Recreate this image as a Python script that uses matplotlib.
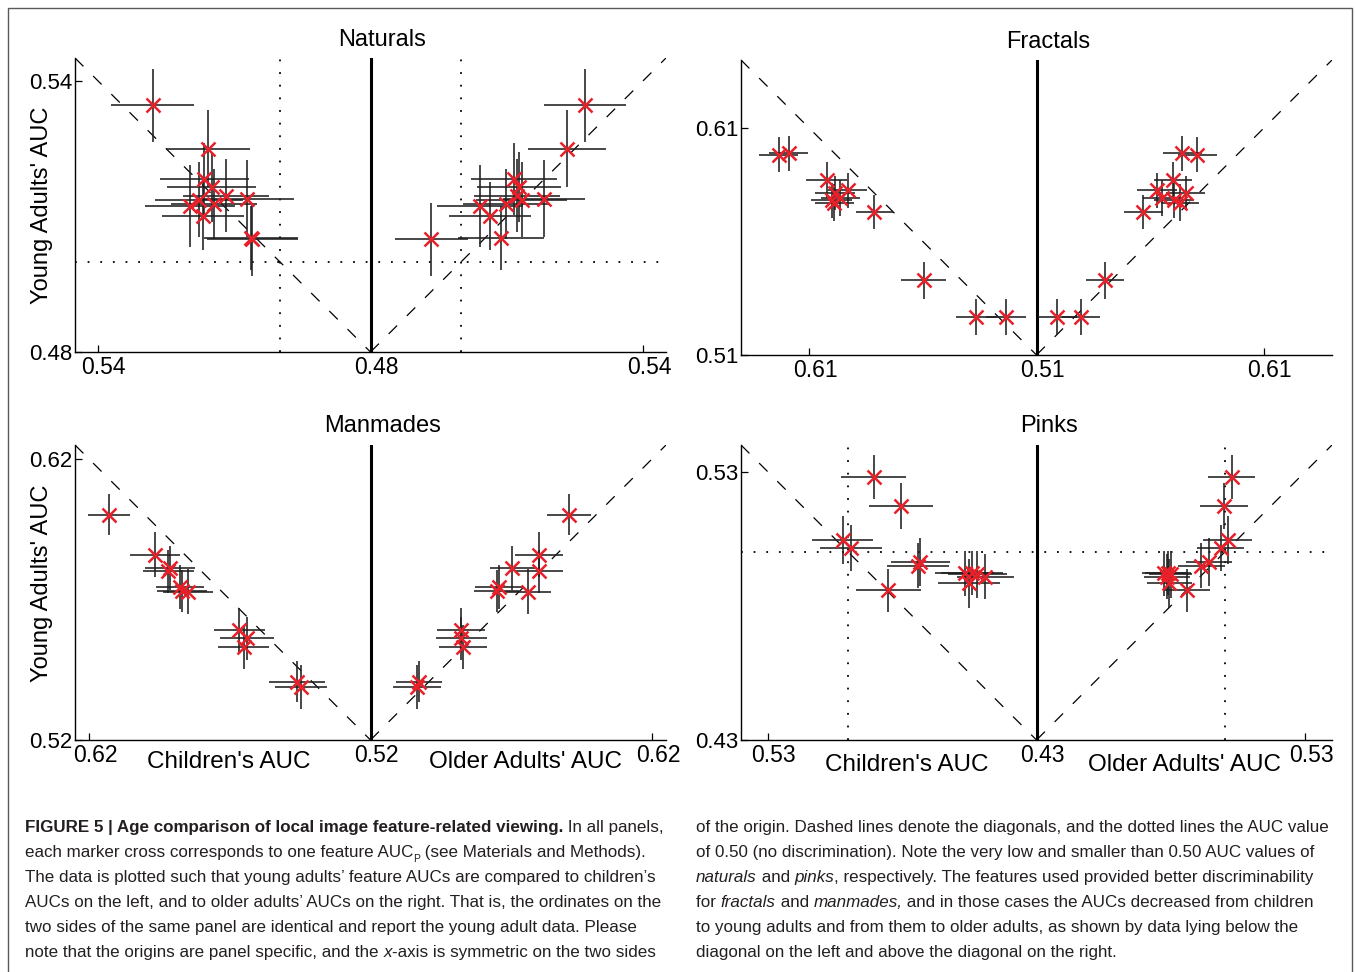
import matplotlib
matplotlib.use("Agg")
import matplotlib.pyplot as plt
from matplotlib import font_manager
from matplotlib.patches import Rectangle
from matplotlib.transforms import ScaledTranslation

plt.rcParams['font.family'] = ['Liberation Sans', 'DejaVu Sans']

W, H = 1356, 972

# ---------------- data (young adults' AUC vs children / older adults) ----------------
panel_names = ["Naturals", "Fractals", "Manmades", "Pinks"]
origins = [0.48, 0.51, 0.52, 0.43]
tick_steps = [0.06, 0.10, 0.10, 0.10]
half_ranges = [0.065, 0.13, 0.105, 0.11]

nat_young = [0.5345, 0.5249, 0.5183, 0.5165, 0.5146, 0.5139, 0.5137, 0.5127, 0.5123, 0.5101, 0.5052, 0.5049]
nat_young_err = [0.0080, 0.0085, 0.0080, 0.0078, 0.0080, 0.0085, 0.0082, 0.0078, 0.0090, 0.0075, 0.0070, 0.0080]
nat_child = [0.5279, 0.5157, 0.5166, 0.5149, 0.5118, 0.5072, 0.5177, 0.5144, 0.5197, 0.5168, 0.5063, 0.5060]
nat_child_err = [0.0091, 0.0092, 0.0098, 0.0098, 0.0095, 0.0103, 0.0097, 0.0095, 0.0099, 0.0090, 0.0103, 0.0100]
nat_older = [0.5271, 0.5232, 0.5115, 0.5127, 0.5122, 0.5181, 0.5133, 0.5098, 0.5041, 0.5063, 0.5087, 0.4934]
nat_older_err = [0.0090, 0.0085, 0.0095, 0.0092, 0.0095, 0.0090, 0.0100, 0.0095, 0.0095, 0.0090, 0.0095, 0.0080]

fra_young = [0.5988, 0.5983, 0.5870, 0.5825, 0.5815, 0.5792, 0.5782, 0.5771, 0.5729, 0.5430, 0.5268, 0.5268]
fra_young_err = [0.0075, 0.0078, 0.0080, 0.0078, 0.0075, 0.0080, 0.0078, 0.0082, 0.0075, 0.0082, 0.0078, 0.0078]
fra_child = [0.6191, 0.6235, 0.6022, 0.5931, 0.5985, 0.5963, 0.6000, 0.5990, 0.5814, 0.5597, 0.5364, 0.5234]
fra_child_err = [0.0086, 0.0086, 0.0090, 0.0085, 0.0088, 0.0086, 0.0090, 0.0085, 0.0082, 0.0097, 0.0090, 0.0090]
fra_older = [0.5742, 0.5808, 0.5701, 0.5632, 0.5756, 0.5654, 0.5705, 0.5731, 0.5570, 0.5401, 0.5191, 0.5295]
fra_older_err = [0.0086, 0.0086, 0.0085, 0.0088, 0.0085, 0.0084, 0.0088, 0.0085, 0.0086, 0.0085, 0.0085, 0.0085]

man_young = [0.6001, 0.5860, 0.5813, 0.5800, 0.5746, 0.5731, 0.5728, 0.5592, 0.5562, 0.5531, 0.5408, 0.5390]
man_young_err = [0.0073, 0.0080, 0.0078, 0.0076, 0.0078, 0.0075, 0.0080, 0.0078, 0.0076, 0.0080, 0.0072, 0.0078]
man_child = [0.6129, 0.5965, 0.5912, 0.5918, 0.5876, 0.5870, 0.5849, 0.5666, 0.5639, 0.5651, 0.5461, 0.5447]
man_child_err = [0.0076, 0.0089, 0.0090, 0.0092, 0.0085, 0.0088, 0.0090, 0.0090, 0.0095, 0.0090, 0.0098, 0.0092]
man_older = [0.5906, 0.5799, 0.5704, 0.5799, 0.5657, 0.5648, 0.5758, 0.5523, 0.5523, 0.5530, 0.5372, 0.5364]
man_older_err = [0.0078, 0.0085, 0.0080, 0.0085, 0.0085, 0.0080, 0.0082, 0.0085, 0.0090, 0.0085, 0.0083, 0.0085]

pin_young = [0.5279, 0.5172, 0.5045, 0.5017, 0.4965, 0.4950, 0.4859, 0.4921, 0.4921, 0.4918, 0.4909, 0.4884]
pin_young_err = [0.0082, 0.0085, 0.0089, 0.0085, 0.0090, 0.0085, 0.0080, 0.0085, 0.0082, 0.0088, 0.0085, 0.0090]
pin_child = [0.4906, 0.4804, 0.5022, 0.4990, 0.4732, 0.4741, 0.4851, 0.4568, 0.4540, 0.4521, 0.4490, 0.4552]
pin_child_err = [0.0120, 0.0120, 0.0112, 0.0115, 0.0110, 0.0115, 0.0120, 0.0110, 0.0115, 0.0110, 0.0105, 0.0115]
pin_older = [0.5026, 0.4998, 0.5011, 0.4986, 0.4942, 0.4914, 0.4859, 0.4775, 0.4790, 0.4800, 0.4785, 0.4795]
pin_older_err = [0.0087, 0.0090, 0.0090, 0.0088, 0.0085, 0.0088, 0.0085, 0.0083, 0.0085, 0.0080, 0.0085, 0.0082]

panel_data = [
    (nat_young, nat_young_err, nat_child, nat_child_err, nat_older, nat_older_err),
    (fra_young, fra_young_err, fra_child, fra_child_err, fra_older, fra_older_err),
    (man_young, man_young_err, man_child, man_child_err, man_older, man_older_err),
    (pin_young, pin_young_err, pin_child, pin_child_err, pin_older, pin_older_err),
]

# axes boxes in pixels: left, top, right, bottom
boxes = [(75, 58, 666, 352), (741, 60, 1332, 355), (75, 445, 666, 740), (741, 445, 1332, 740)]
ylabel_pos = {0: 0.50, 2: 0.53}
# x positions (axes fraction) of the two x labels, and drop below the axis in pixels
xlabel_pos = {2: (0.260, 0.763, 11), 3: (0.281, 0.750, 14)}

RED = '#e8202a'
fig = plt.figure(figsize=(W / 100, H / 100), dpi=100)
shift = ScaledTranslation(6 / 100, 0, fig.dpi_scale_trans)

for i, name in enumerate(panel_names):
    l, t, r, b = boxes[i]
    ax = fig.add_axes([l / W, 1 - b / H, (r - l) / W, (b - t) / H])
    o, step, R = origins[i], tick_steps[i], half_ranges[i]
    young, young_err, child, child_err, older, older_err = panel_data[i]

    u_left = [-(c - o) for c in child]
    u_right = [v - o for v in older]

    # reference lines
    ax.plot([-R, 0], [o + R, o], color='k', lw=0.9, ls=(0, (9.5, 11)), zorder=1)
    ax.plot([0, R], [o, o + R], color='k', lw=0.9, ls=(0, (9.5, 11)), zorder=1)
    if o < 0.5:
        dot = dict(color='k', lw=1.3, ls=(0, (1, 6)), zorder=1)
        ax.axhline(0.5, **dot)
        ax.axvline(-(0.5 - o), **dot)
        ax.axvline(0.5 - o, **dot)
    ax.axvline(0, color='k', lw=2.2, zorder=2)

    ax.errorbar(u_left, young, xerr=child_err, yerr=young_err, fmt='none',
                ecolor='0.12', elinewidth=1.15, capsize=0, zorder=3)
    ax.errorbar(u_right, young, xerr=older_err, yerr=young_err, fmt='none',
                ecolor='0.12', elinewidth=1.15, capsize=0, zorder=3)
    ax.plot(u_left + u_right, young + young, 'x', color=RED, ms=10, mew=1.8, zorder=4)

    ax.set_xlim(-R, R)
    ax.set_ylim(o, o + R)
    ax.spines['top'].set_visible(False)
    ax.spines['right'].set_visible(False)
    for s in ('left', 'bottom'):
        ax.spines[s].set_linewidth(1.0)
    ax.set_xticks([-step, 0, step])
    ax.set_xticklabels([f"{o + step:.2f}", f"{o:.2f}", f"{o + step:.2f}"])
    ax.set_yticks([o, o + step])
    ax.set_yticklabels([f"{o:.2f}", f"{o + step:.2f}"])
    ax.tick_params(direction='in', length=5, width=0.9)
    ax.tick_params(axis='x', pad=3, labelsize=16.5)
    ax.tick_params(axis='y', pad=2, labelsize=16)
    for lab in ax.get_xticklabels():
        lab.set_transform(lab.get_transform() + shift)

    ax.set_title(name, fontsize=17, x=0.5 + 12 / 591, pad=9)
    if i in ylabel_pos:
        ax.text(-33 / 591, ylabel_pos[i], "Young Adults' AUC", rotation=90,
                transform=ax.transAxes, ha='center', va='center', fontsize=17)
    if i in xlabel_pos:
        xa, xb, drop = xlabel_pos[i]
        ax.text(xa, -drop / 295, "Children's AUC", transform=ax.transAxes,
                ha='center', va='top', fontsize=17.5)
        ax.text(xb, -drop / 295, "Older Adults' AUC", transform=ax.transAxes,
                ha='center', va='top', fontsize=17.5)

# outer frame
fig.patches.append(Rectangle((8 / W, -0.05), 1344 / W, 1.05 - 8 / H, transform=fig.transFigure,
                             fill=False, ec='0.35', lw=1.0))

# ---------------- caption ----------------
names = {f.name for f in font_manager.fontManager.ttflist}
cap_family = 'Liberation Sans Narrow' if 'Liberation Sans Narrow' in names else 'Liberation Sans'
renderer = fig.canvas.get_renderer()

left_lines = [
    [("FIGURE 5 | Age comparison of local image feature-related viewing.", 'b'), (" In all panels,", 'n')],
    [("each marker cross corresponds to one feature AUC", 'n'), ("P", 'sub'), (" (see Materials and Methods).", 'n')],
    [("The data is plotted such that young adults\u2019 feature AUCs are compared to children\u2019s", 'n')],
    [("AUCs on the left, and to older adults\u2019 AUCs on the right. That is, the ordinates on the", 'n')],
    [("two sides of the same panel are identical and report the young adult data. Please", 'n')],
    [("note that the origins are panel specific, and the ", 'n'), ("x", 'i'), ("-axis is symmetric on the two sides", 'n')],
]
right_lines = [
    [("of the origin. Dashed lines denote the diagonals, and the dotted lines the AUC value", 'n')],
    [("of 0.50 (no discrimination). Note the very low and smaller than 0.50 AUC values of", 'n')],
    [("naturals", 'i'), (" and ", 'n'), ("pinks", 'i'), (", respectively. The features used provided better discriminability", 'n')],
    [("for ", 'n'), ("fractals", 'i'), (" and ", 'n'), ("manmades,", 'i'), (" and in those cases the AUCs decreased from children", 'n')],
    [("to young adults and from them to older adults, as shown by data lying below the", 'n')],
    [("diagonal on the left and above the diagonal on the right.", 'n')],
]


def props(style, size):
    return font_manager.FontProperties(
        family=cap_family, size=size * (0.6 if style == 'sub' else 1.0),
        weight='bold' if style == 'b' else 'normal',
        style='italic' if style == 'i' else 'normal')


def advance(text, style, size):
    p = props(style, size)
    w1 = renderer.get_text_width_height_descent(text + "|", p, ismath=False)[0]
    w2 = renderer.get_text_width_height_descent("|", p, ismath=False)[0]
    return w1 - w2


# fit the caption size to the width of a reference line
ref = left_lines[2][0][0]
cap_size = 10 * 632 / advance(ref, 'n', 10)


def caption_line(x, y, parts):
    for text, style in parts:
        dy = 5 if style == 'sub' else 0
        fig.text(x / W, 1 - (y + dy) / H, text, fontproperties=props(style, cap_size),
                 color='#231f20', va='baseline', ha='left')
        x += advance(text, style, cap_size)


for k, parts in enumerate(left_lines):
    caption_line(25, 832 + 25 * k, parts)
for k, parts in enumerate(right_lines):
    caption_line(696, 832 + 25 * k, parts)

fig.savefig("out.png", dpi=100)
